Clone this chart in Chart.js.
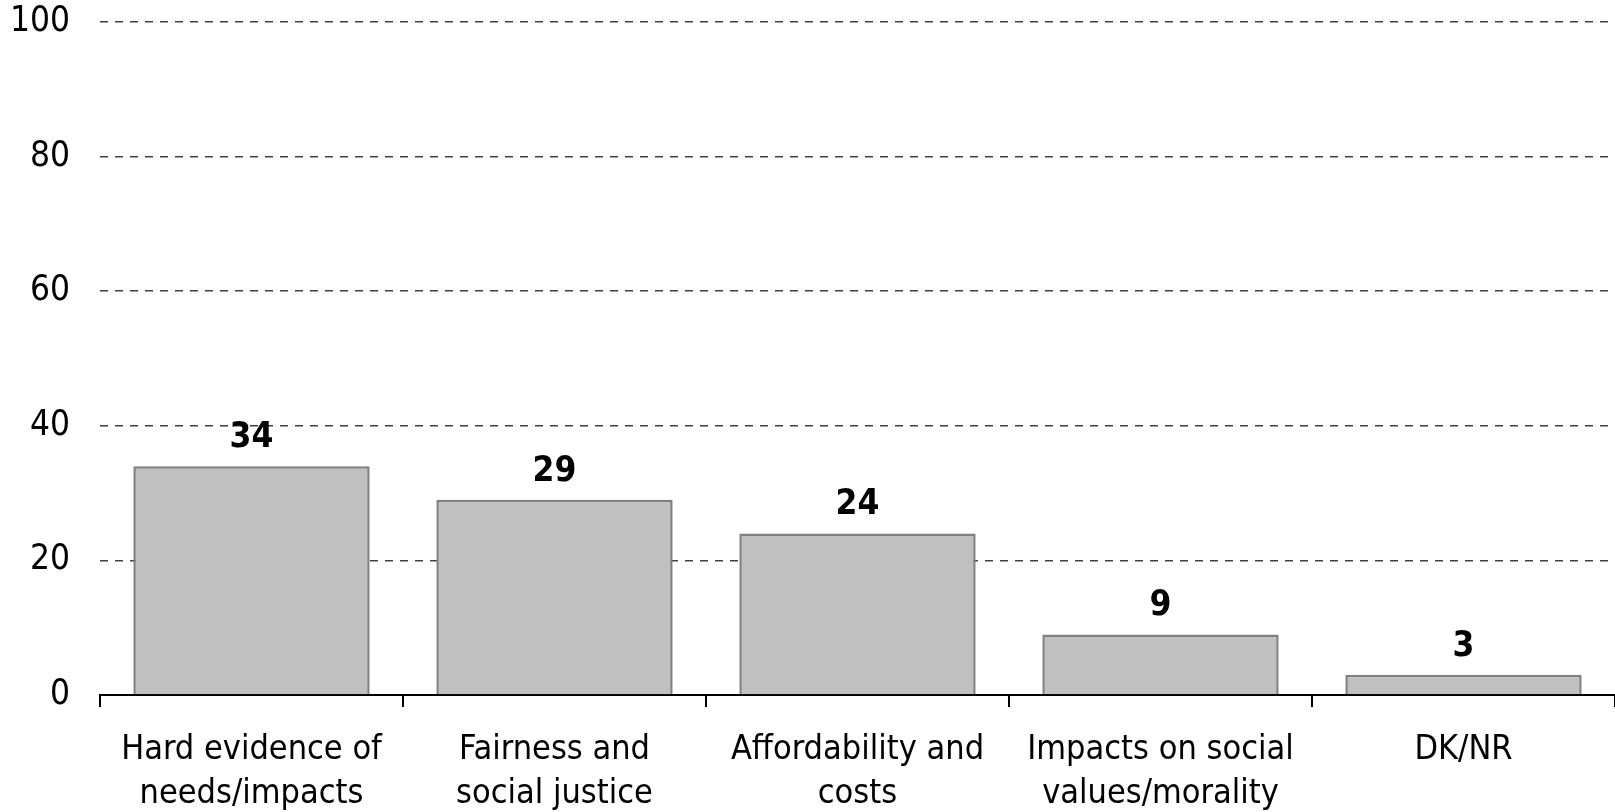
<!DOCTYPE html>
<html>
<head>
<meta charset="utf-8">
<script src="https://cdn.jsdelivr.net/npm/chart.js@4/dist/chart.umd.min.js"></script>
<style>
  html, body { margin: 0; padding: 0; background: #fff; }
  #wrap { width: 1615px; height: 812px; }
</style>
</head>
<body>
<div id="wrap"><canvas id="reasonsChart" width="1615" height="812"></canvas></div>
<script>
// data
const categories = [
    ['Hard evidence of', 'needs/impacts'],
    ['Fairness and', 'social justice'],
    ['Affordability and', 'costs'],
    ['Impacts on social', 'values/morality'],
    'DK/NR'
];
const values = [34, 29, 24, 9, 3];
const yTicks = [0, 20, 40, 60, 80, 100];

const FONT = '"DejaVu Sans Condensed", "DejaVu Sans", sans-serif';

// bold value on top of every bar
const valueLabels = {
    id: 'valueLabels',
    afterDatasetsDraw(chart) {
        const ctx = chart.ctx;
        const meta = chart.getDatasetMeta(0);
        ctx.save();
        ctx.font = 'bold 35px ' + FONT;
        ctx.fillStyle = '#000';
        ctx.textAlign = 'center';
        ctx.textBaseline = 'alphabetic';
        meta.data.forEach((bar, i) => {
            ctx.fillText(values[i], bar.x, bar.y - 19);
        });
        ctx.restore();
    }
};

const ctx = document.getElementById('reasonsChart').getContext('2d');

const config = {
    type: 'bar',
    data: {
        labels: categories,
        datasets: [{
            data: values,
            backgroundColor: '#c0c0c0',
            borderColor: '#808080',
            borderWidth: 2.5,
            borderSkipped: 'bottom',
            categoryPercentage: 1,
            barPercentage: 0.78
        }]
    },
    options: {
        responsive: false,
        animation: false,
        layout: { padding: 0 },
        plugins: {
            legend: { display: false },
            tooltip: { enabled: false }
        },
        scales: {
            x: {
                grid: {
                    offset: true,
                    drawOnChartArea: false,
                    drawTicks: true,
                    tickLength: 12,
                    color: '#000',
                    lineWidth: 2
                },
                border: { display: true, color: '#000', width: 2 },
                ticks: {
                    color: '#000',
                    font: { family: FONT, size: 34, lineHeight: 1.3 },
                    padding: 21,
                    maxRotation: 0,
                    autoSkip: false
                },
                afterFit(scale) { scale.height = 117; }
            },
            y: {
                min: 0,
                max: 100,
                afterBuildTicks(scale) {
                    scale.ticks = yTicks.map(v => ({ value: v }));
                },
                grid: {
                    drawTicks: false,
                    color: '#404040',
                    lineWidth: 1.5
                },
                border: { display: false, dash: [8, 7] },
                ticks: {
                    color: '#000',
                    font: { family: FONT, size: 35 },
                    padding: 30
                },
                afterFit(scale) {
                    scale.width = 100;
                    scale.paddingTop = 22;
                    scale.paddingBottom = 0;
                }
            }
        }
    },
    plugins: [valueLabels]
};

const reasonsChart = new Chart(ctx, config);
</script>
</body>
</html>
